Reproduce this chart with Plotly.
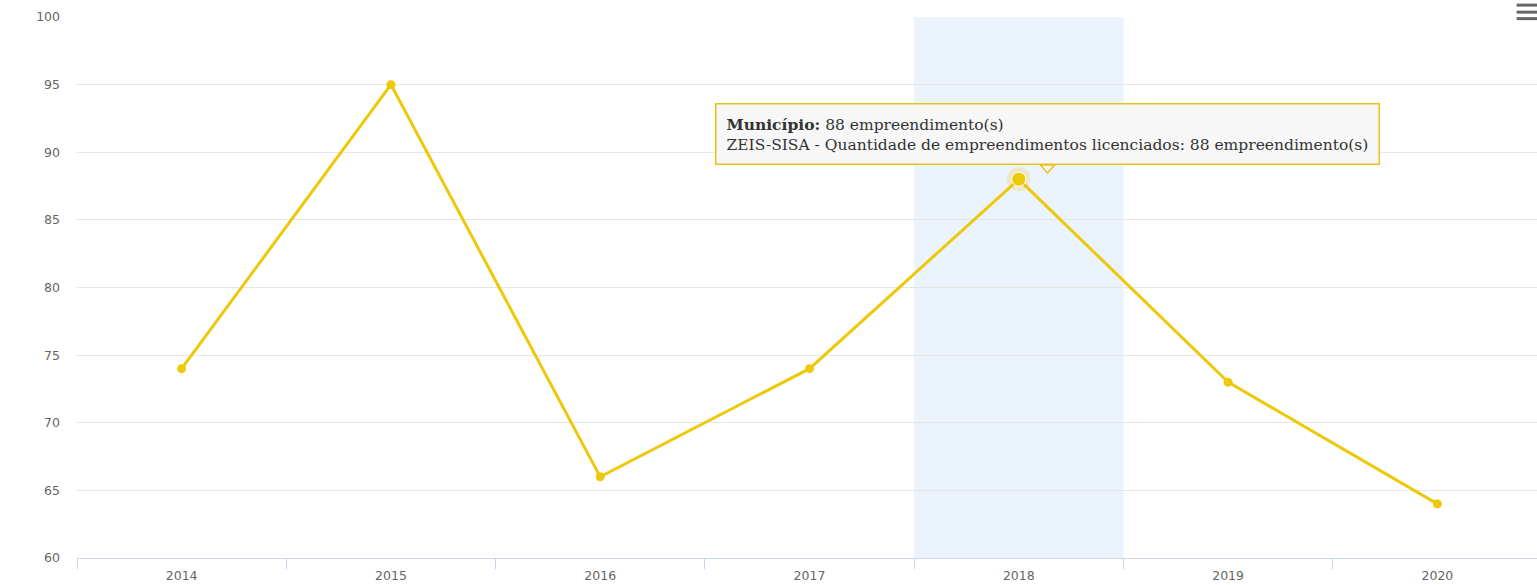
import plotly.graph_objects as go

YEARS = ["2014", "2015", "2016", "2017", "2018", "2019", "2020"]
EMPREENDIMENTOS = [74, 95, 66, 74, 88, 73, 64]
Y_TICKS = [60, 65, 70, 75, 80, 85, 90, 95, 100]

HOVER_IDX = 4  # 2018, point under the tooltip
LINE_COLOR = "#EEC80B"
AXIS_COLOR = "#CCD6EB"
GRID_COLOR = "#E6E6E6"
LABEL_COLOR = "#666666"
TIP_BORDER = "#E8C21A"
TIP_BG = "#F7F7F7"

fig = go.Figure()

# highlighted category band (crosshair)
fig.add_vrect(x0=HOVER_IDX - 0.5, x1=HOVER_IDX + 0.5, fillcolor="#EBF3FD",
              line_width=0, layer="below")

fig.add_trace(go.Scatter(
    x=YEARS, y=EMPREENDIMENTOS, mode="lines+markers",
    line=dict(color=LINE_COLOR, width=3),
    marker=dict(color=LINE_COLOR, size=9),
    hoverinfo="skip", showlegend=False,
))

# halo + enlarged marker for hovered point
fig.add_trace(go.Scatter(
    x=[YEARS[HOVER_IDX]], y=[EMPREENDIMENTOS[HOVER_IDX]], mode="markers",
    marker=dict(color="rgba(238,200,11,0.22)", size=24),
    hoverinfo="skip", showlegend=False,
))
fig.add_trace(go.Scatter(
    x=[YEARS[HOVER_IDX]], y=[EMPREENDIMENTOS[HOVER_IDX]], mode="markers",
    marker=dict(color=LINE_COLOR, size=14, line=dict(color="#FFFFFF", width=1)),
    hoverinfo="skip", showlegend=False,
))

val = EMPREENDIMENTOS[HOVER_IDX]
tooltip = (f"<b>Município:</b> {val} empreendimento(s)<br>"
           f"ZEIS-SISA - Quantidade de empreendimentos licenciados: {val} empreendimento(s)")

tip_x = HOVER_IDX + 0.137
box_bottom = val + 1.06

# tooltip callout triangle
fig.add_shape(
    type="path",
    path=(f"M {tip_x - 0.034} {box_bottom} L {tip_x} {val + 0.47} "
          f"L {tip_x + 0.034} {box_bottom} Z"),
    fillcolor=TIP_BG, line=dict(color=TIP_BORDER, width=1.5),
)

fig.add_annotation(
    x=tip_x, y=box_bottom, xref="x", yref="y",
    text=tooltip, showarrow=False, align="left",
    xanchor="center", yanchor="bottom",
    font=dict(family="DejaVu Serif", size=15.5, color="#333333"),
    bgcolor=TIP_BG, bordercolor=TIP_BORDER, borderwidth=1.5, borderpad=10,
)

# hamburger menu icon (top right)
for yy in [1.022, 1.009, 0.997]:
    fig.add_shape(type="line", xref="paper", yref="paper",
                  x0=0.986, x1=1.0, y0=yy, y1=yy,
                  line=dict(color="#666666", width=3))

fig.update_layout(
    width=1537, height=585,
    margin=dict(l=77, r=0, t=17, b=27),
    plot_bgcolor="#FFFFFF", paper_bgcolor="#FFFFFF",
    font=dict(family="DejaVu Sans", size=12, color=LABEL_COLOR),
    xaxis=dict(
        type="category", range=[-0.5, 6.476], tickson="boundaries",
        ticks="outside", ticklen=10, tickcolor=AXIS_COLOR, tickwidth=1,
        showline=True, linecolor=AXIS_COLOR, linewidth=1,
        showgrid=False, ticklabelstandoff=6, automargin=False,
        tickfont=dict(size=12.5, color=LABEL_COLOR),
    ),
    yaxis=dict(
        range=[60, 100], tickvals=Y_TICKS, showgrid=True,
        gridcolor=GRID_COLOR, gridwidth=1, zeroline=False,
        showline=False, ticks="", ticklabelstandoff=16, automargin=False,
        tickfont=dict(size=12.5, color=LABEL_COLOR),
    ),
)

fig.write_html(
    "out.html",
    config={"displayModeBar": False},
    post_script="document.body.style.margin='0';document.body.style.overflow='hidden';",
)
